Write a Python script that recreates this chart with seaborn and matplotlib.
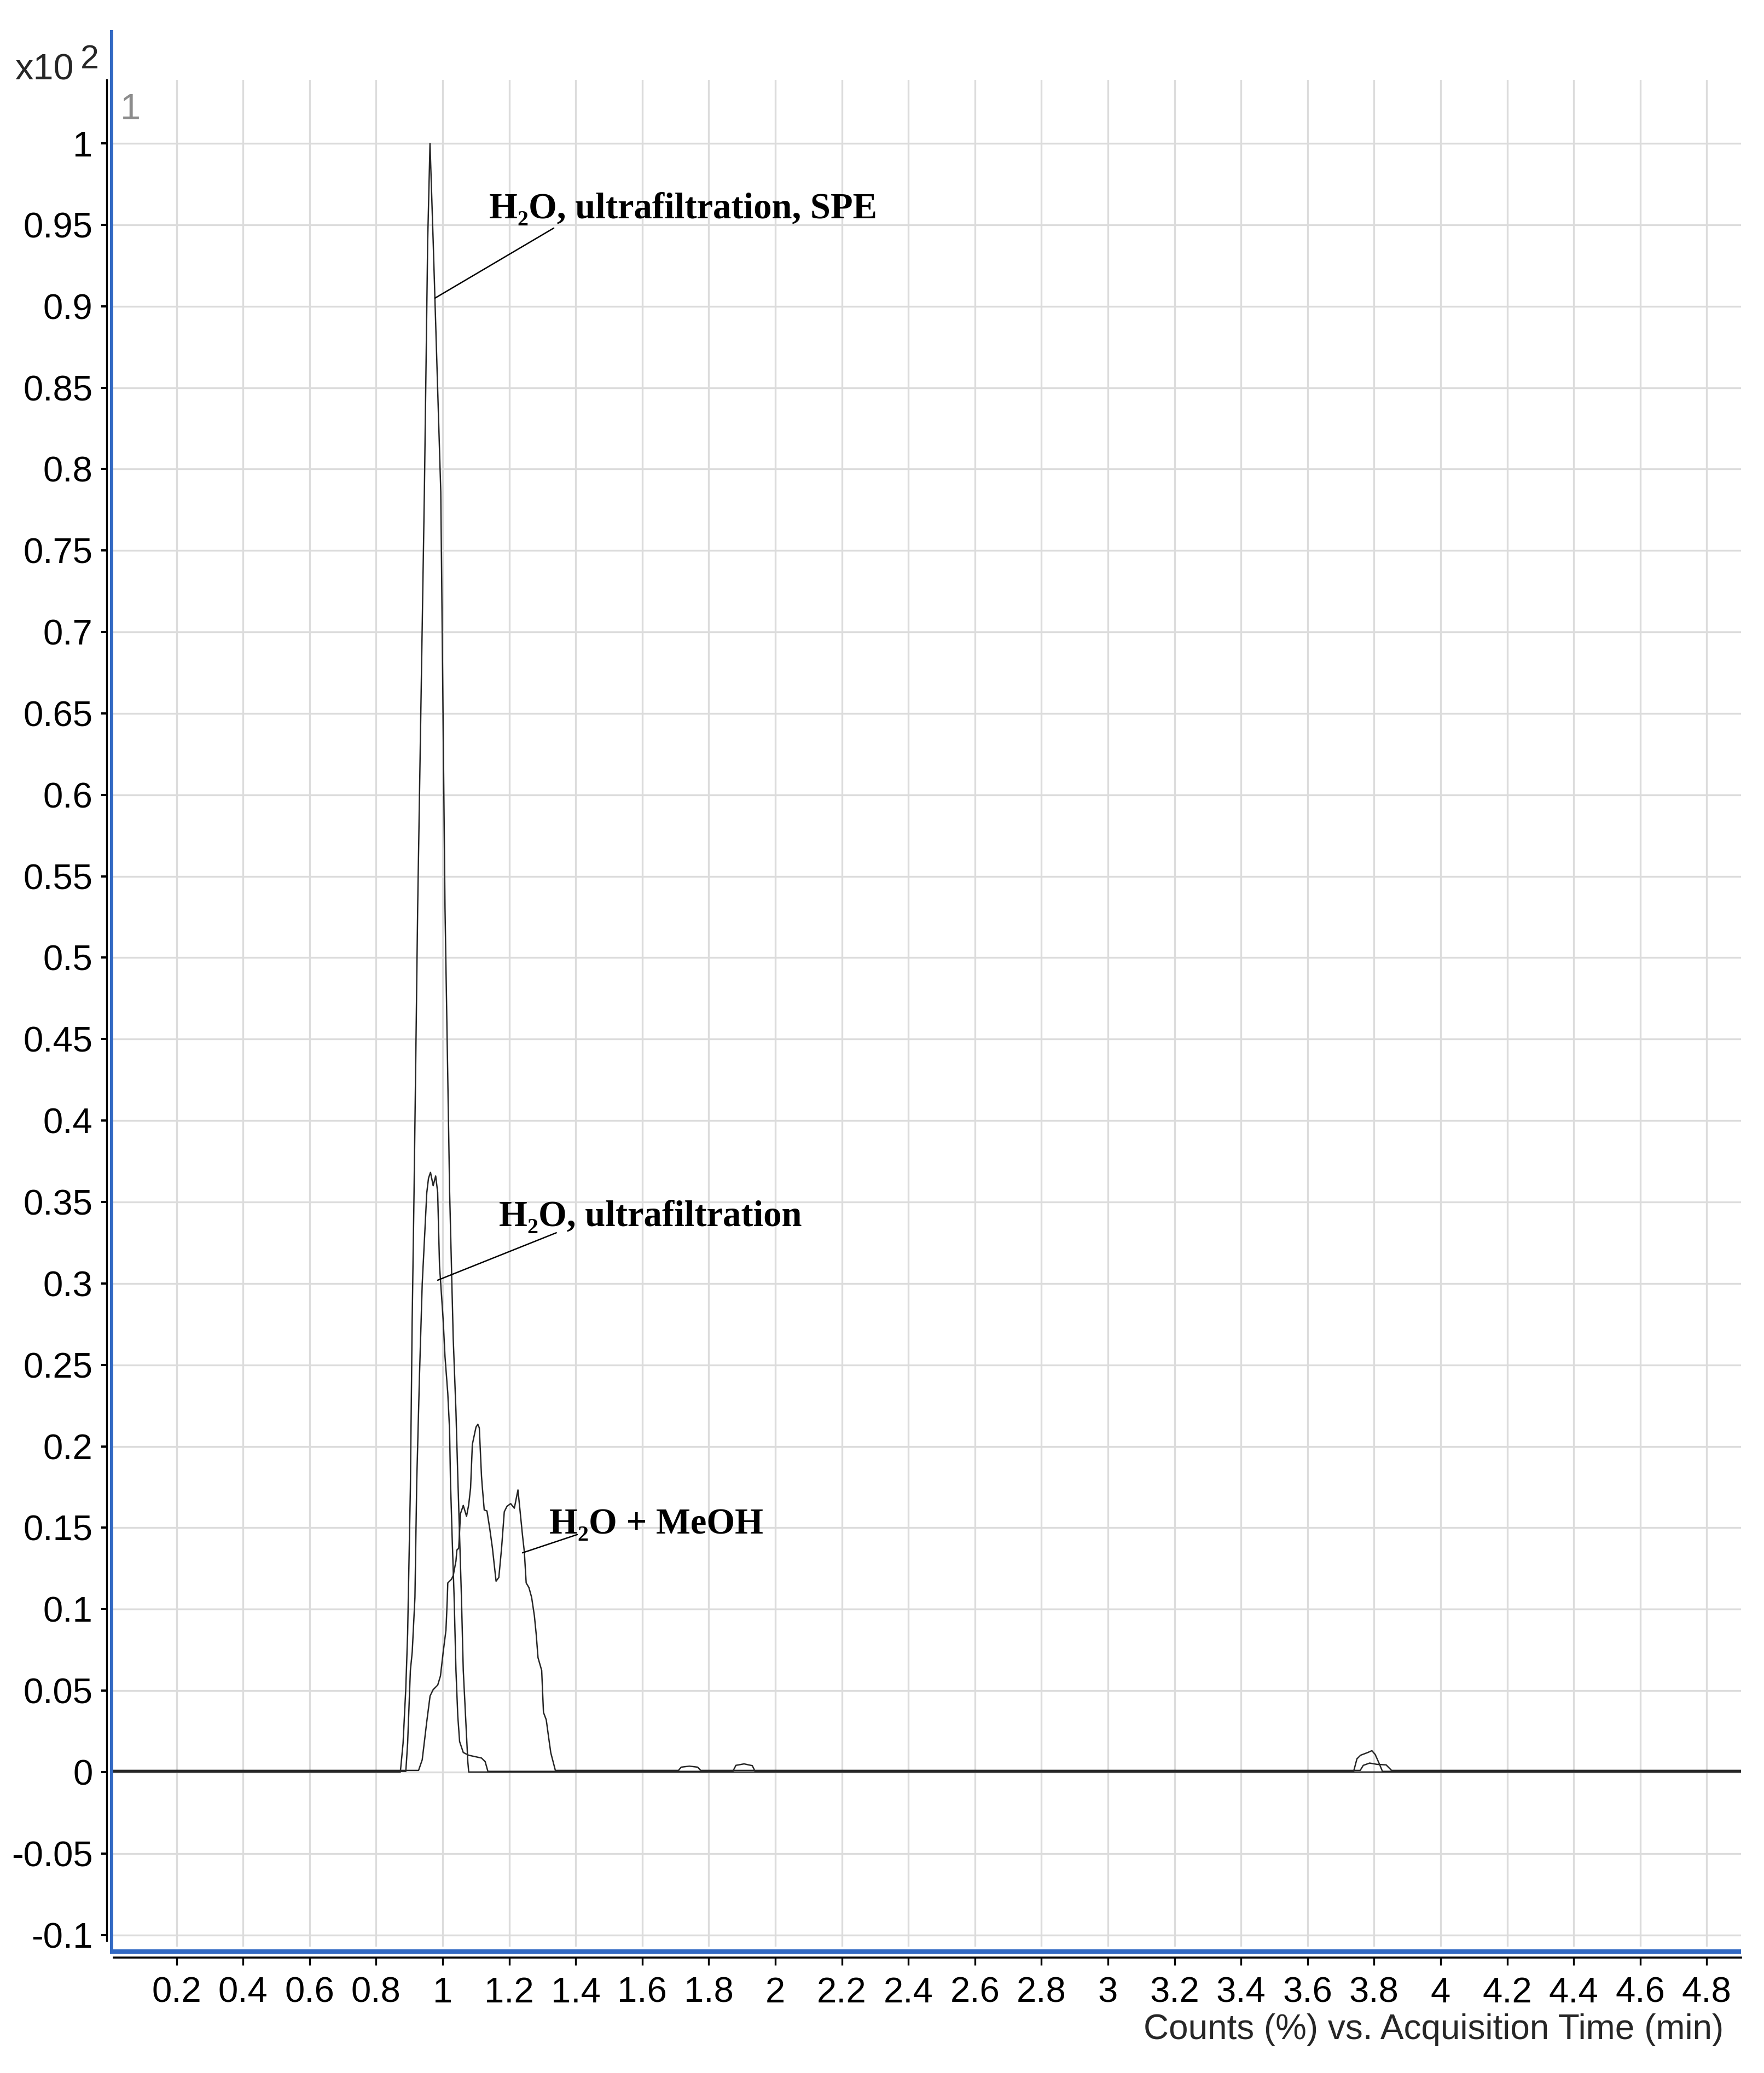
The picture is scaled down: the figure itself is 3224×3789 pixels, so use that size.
import numpy as np
import pandas as pd
import matplotlib
matplotlib.use("Agg")
import matplotlib.pyplot as plt
from matplotlib.lines import Line2D
import seaborn as sns

# ---------------- data ----------------
series_names = ["H₂O, ultrafiltration, SPE", "H₂O, ultrafiltration", "H₂O + MeOH"]

spe_time = [0.005, 0.8728, 0.8810, 0.8892, 0.8947, 0.9030, 0.9084, 0.9140, 0.9194, 0.9249,
            0.9450, 0.9550, 0.9620, 0.9715, 0.9944, 1.0071, 1.0210, 1.0318, 1.0400, 1.0455,
            1.0565, 1.0620, 1.0702, 1.0757, 1.0784, 4.903]
spe_counts = [0, 0, 0.0176, 0.0512, 0.0848, 0.1743, 0.2774, 0.3557, 0.4408, 0.5304,
              0.7850, 0.9400, 1.0000, 0.9400, 0.7860, 0.5304, 0.3560, 0.2661, 0.2214, 0.1816,
              0.1072, 0.0624, 0.0288, 0.0062, 0, 0]

uf_time = [0.005, 0.8893, 0.8947, 0.9030, 0.9085, 0.9167, 0.9221, 0.9304, 0.9386, 0.9523,
           0.9575, 0.9635, 0.9715, 0.9790, 0.9850, 0.9906, 1.0016, 1.0071, 1.0154, 1.0208,
           1.0236, 1.0291, 1.0345, 1.0400, 1.0455, 1.0510, 1.0620, 1.0784, 1.1168, 1.1278,
           1.1360, 1.8723, 1.8816, 1.9062, 1.9309, 1.9392, 3.7385, 3.7484, 3.7593, 3.7812,
           3.7933, 3.8032, 3.8141, 3.8251, 4.903]
uf_counts = [0.0004, 0.0004, 0.0176, 0.0624, 0.0736, 0.1072, 0.1780, 0.2438, 0.2997, 0.3557,
             0.3646, 0.3682, 0.3600, 0.3660, 0.3560, 0.3109, 0.2774, 0.2550, 0.2326, 0.2102,
             0.1780, 0.1407, 0.1072, 0.0624, 0.0344, 0.0187, 0.0120, 0.0103, 0.0086, 0.0064,
             0.0004, 0.0004, 0.0041, 0.0050, 0.0039, 0.0004, 0.0004, 0.0081, 0.0103, 0.0120,
             0.0131, 0.0108, 0.0058, 0.0004, 0.0004]

meoh_time = [0.005, 0.9276, 0.9386, 0.9523, 0.9622, 0.9715, 0.9852, 0.9934, 1.0016, 1.0099,
             1.0137, 1.0154, 1.0263, 1.0318, 1.0400, 1.0428, 1.0483, 1.0537, 1.0620, 1.0718,
             1.0784, 1.0839, 1.0893, 1.1003, 1.1058, 1.1102, 1.1168, 1.1195, 1.1250, 1.1332,
             1.1414, 1.1497, 1.1551, 1.1606, 1.1689, 1.1771, 1.1853, 1.1935, 1.2045, 1.2155,
             1.2209, 1.2264, 1.2319, 1.2401, 1.2456, 1.2511, 1.2593, 1.2675, 1.2757, 1.2812,
             1.2867, 1.2977, 1.3031, 1.3114, 1.3196, 1.3251, 1.3388, 1.7089, 1.7171, 1.7418,
             1.7664, 1.7757, 3.7582, 3.7675, 3.7867, 3.8087, 3.8361, 3.8525, 4.903]
meoh_counts = [0.001, 0.001, 0.0075, 0.0310, 0.0467, 0.0506, 0.0534, 0.0590, 0.0736, 0.0870,
               0.1049, 0.1161, 0.1183, 0.1206, 0.1296, 0.1363, 0.1374, 0.1587, 0.1637, 0.1570,
               0.1642, 0.1743, 0.2012, 0.2118, 0.2135, 0.2113, 0.1816, 0.1743, 0.1609, 0.1603,
               0.1497, 0.1374, 0.1273, 0.1172, 0.1195, 0.1374, 0.1598, 0.1632, 0.1648, 0.1620,
               0.1676, 0.1732, 0.1620, 0.1452, 0.1351, 0.1161, 0.1133, 0.1072, 0.0960, 0.0847,
               0.0702, 0.0624, 0.0366, 0.0321, 0.0198, 0.0118, 0.001, 0.001, 0.0030, 0.0036,
               0.0030, 0.001, 0.001, 0.0041, 0.0055, 0.0047, 0.0044, 0.001, 0.001]

x_ticks = [0.2, 0.4, 0.6, 0.8, 1, 1.2, 1.4, 1.6, 1.8, 2, 2.2, 2.4, 2.6, 2.8, 3, 3.2, 3.4,
           3.6, 3.8, 4, 4.2, 4.4, 4.6, 4.8]
y_ticks = [1, 0.95, 0.9, 0.85, 0.8, 0.75, 0.7, 0.65, 0.6, 0.55, 0.5, 0.45, 0.4, 0.35, 0.3,
           0.25, 0.2, 0.15, 0.1, 0.05, 0, -0.05, -0.1]
x_tick_labels = [f"{v:g}" for v in x_ticks]
y_tick_labels = [f"{v:g}" for v in y_ticks]

x_axis_label = "Counts (%) vs. Acquisition Time (min)"
scale_label = "x10"
scale_exp = "2"
panel_number = "1"

# annotation anchors (data coordinates)
label_pos = [(1.1398, 0.954), (1.1694, 0.3352), (1.3207, 0.1465)]
leader_text_end = [(1.334, 0.948), (1.3416, 0.3311), (1.4046, 0.1458)]
leader_curve_end = [(0.977, 0.905), (0.9852, 0.3020), (1.2401, 0.1346)]

# ---------------- figure ----------------
W, H, DPI = 3224, 3789, 100
sns.set_style("white")
plt.rcParams["font.family"] = ["Liberation Sans", "DejaVu Sans"]

fig = plt.figure(figsize=(W / DPI, H / DPI), dpi=DPI)
ax = fig.add_axes([204 / W, 1 - 3558 / H, (3182 - 204) / W, (3558 - 146) / H])

frames = []
for name, t, c in [(series_names[0], spe_time, spe_counts),
                   (series_names[1], uf_time, uf_counts),
                   (series_names[2], meoh_time, meoh_counts)]:
    frames.append(pd.DataFrame({"time": t, "counts": c, "series": name}))
df = pd.concat(frames, ignore_index=True)

line_col = "#262626"
sns.lineplot(data=df, x="time", y="counts", hue="series",
             palette={n: line_col for n in series_names},
             estimator=None, sort=False, legend=False, linewidth=1.8, ax=ax, zorder=3)

ax.set_xlim(0.0049, 4.903)
ax.set_ylim(-0.1072, 1.039)

ax.set_xticks(x_ticks)
ax.set_xticklabels(x_tick_labels)
ax.set_yticks(y_ticks)
ax.set_yticklabels(y_tick_labels)
ax.set_xlabel("")
ax.set_ylabel("")

ax.grid(True, color="#dcdcdc", linewidth=2.4)
ax.set_axisbelow(True)

for s in ["top", "right"]:
    ax.spines[s].set_visible(False)
ax.spines["left"].set_position(("outward", 6.5))
ax.spines["bottom"].set_position(("outward", 14.4))
ax.spines["left"].set_linewidth(2.4)
ax.spines["bottom"].set_linewidth(2.6)
ax.spines["left"].set_color("black")
ax.spines["bottom"].set_color("black")
ax.spines["left"].set_bounds(-0.1035, 1.039)
ax.spines["bottom"].set_bounds(0.0115, 4.903)

ax.tick_params(axis="x", direction="out", length=10, width=2.4, pad=15,
               labelsize=47, colors="black", bottom=True)
ax.tick_params(axis="y", direction="out", length=7.2, width=2.9, pad=11,
               labelsize=47, colors="black", left=True)

# annotations
for name, (tx, ty), (sx, sy), (ex, ey) in zip(series_names, label_pos,
                                              leader_text_end, leader_curve_end):
    ax.text(tx, ty, name, ha="left", va="baseline", fontsize=48, fontweight="bold",
            family=["Liberation Serif", "DejaVu Serif"], color="black", zorder=5)
    ax.plot([sx, ex], [sy, ey], color="black", linewidth=1.8, zorder=5)

# figure-level texts
fig.text(27 / W, 1 - 145 / H, scale_label, ha="left", va="baseline", fontsize=48)
fig.text(147 / W, 1 - 125 / H, scale_exp, ha="left", va="baseline", fontsize=44)
fig.text(220 / W, 1 - 218 / H, panel_number, ha="left", va="baseline", fontsize=48,
         color="#8c8c8c")
fig.text(3150 / W, 1 - 3727 / H, x_axis_label, ha="right", va="baseline", fontsize=46)

# blue frame lines
blue = "#3269c3"
fig.add_artist(Line2D([204 / W, 204 / W], [1 - 55 / H, 1 - 3571 / H],
                      transform=fig.transFigure, color=blue, linewidth=4.3,
                      solid_capstyle="butt"))
fig.add_artist(Line2D([204 / W, 3182 / W], [1 - 3567 / H, 1 - 3567 / H],
                      transform=fig.transFigure, color=blue, linewidth=5.8,
                      solid_capstyle="butt"))

fig.savefig("out.png", dpi=DPI, facecolor="white")
